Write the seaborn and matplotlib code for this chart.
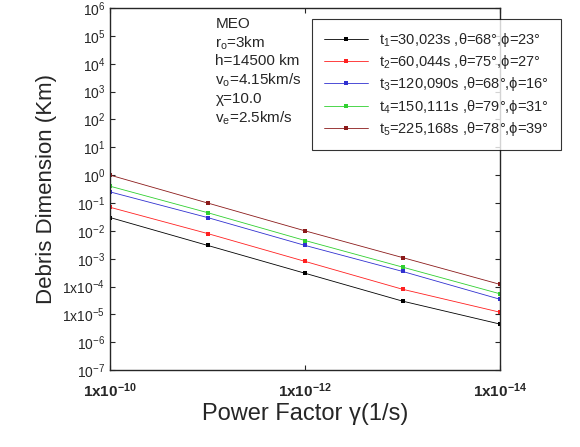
import matplotlib
matplotlib.use("Agg")
import matplotlib.pyplot as plt
import seaborn as sns
import numpy as np

sns.set_style("ticks")
plt.rcParams['font.family'] = ['Liberation Sans', 'DejaVu Sans']
plt.rcParams['mathtext.default'] = 'regular'
plt.rcParams['mathtext.fontset'] = 'custom'
plt.rcParams['mathtext.rm'] = 'Liberation Sans'
plt.rcParams['mathtext.bf'] = 'Liberation Sans:bold'

gamma = [1e-10, 1e-11, 1e-12, 1e-13, 1e-14]
t1 = [3e-2, 3e-3, 3e-4, 3e-5, 4.5e-6]
t2 = [7e-2, 8e-3, 8e-4, 8e-5, 1.2e-5]
t3 = [0.25, 3e-2, 3e-3, 3.5e-4, 3.5e-5]
t4 = [0.4, 4.5e-2, 4.5e-3, 5e-4, 5.5e-5]
t5 = [1.0, 0.1, 1e-2, 1.1e-3, 1.2e-4]
labels = [r"t$_1$=30,023s ,θ=68°,ϕ=23°", r"t$_2$=60,044s ,θ=75°,ϕ=27°",
          r"t$_3$=120,090s ,θ=68°,ϕ=16°", r"t$_4$=150,111s ,θ=79°,ϕ=31°",
          r"t$_5$=225,168s ,θ=78°,ϕ=39°"]
colors = ["black", "#ff2020", "#3030d0", "#30d030", "#8b1a1a"]

fig = plt.figure(figsize=(5.8, 4.47), dpi=100)
ax = fig.add_axes([0.19, 0.172, 0.672, 0.81])
for ys, lab, c in zip([t1, t2, t3, t4, t5], labels, colors):
    sns.lineplot(x=gamma, y=ys, ax=ax, color=c, lw=0.6, marker='s', ms=2.5,
                 markeredgewidth=0, legend=False)
handles = [plt.Line2D([], [], color=c, lw=0.6, marker='s', ms=2.5, markeredgewidth=0) for c in colors]
ax.set_xscale('log'); ax.set_yscale('log')
ax.set_xlim(1e-10, 1e-14)
ax.set_ylim(1e-7, 1e6)
ax.set_xticks([1e-10, 1e-12, 1e-14])
ax.set_xticklabels([r"$\mathbf{1x10^{-10}}$", r"$\mathbf{1x10^{-12}}$", r"$\mathbf{1x10^{-14}}$"], fontsize=11)
yt = [10.0**k for k in range(-7, 7)]
ylab = []
for k in range(-7, 7):
    if k in (-4, -5):
        ylab.append(r"$1x10^{%d}$" % k)
    else:
        ylab.append(r"$10^{%d}$" % k)
ax.set_yticks(yt)
ax.set_yticklabels(ylab, fontsize=10)
ax.minorticks_off()
ax.tick_params(direction='in', which='both', top=True, right=True)
ax.tick_params(axis='x', pad=8)
ax.set_xlabel("Power Factor γ(1/s)", fontsize=17, labelpad=2)
ax.set_ylabel("Debris Dimension (Km)", fontsize=16)
for s in ax.spines.values():
    s.set_linewidth(1.0)
leg = ax.legend(handles, labels, loc='upper right', fontsize=10.5, frameon=True, fancybox=False,
          edgecolor='black', handlelength=3.0, borderpad=0.8,
          bbox_to_anchor=(1.175, 0.99), labelspacing=0.3)
leg.get_frame().set_linewidth(0.8)
ax.text(0.27, 0.975, "MEO\n" r"r$_o$=3km" "\nh=14500 km\n" r"v$_o$=4.15km/s" "\nχ=10.0\n" r"v$_e$=2.5km/s",
        transform=ax.transAxes, fontsize=11, va='top', linespacing=1.25)
fig.savefig("out.png", dpi=100)
